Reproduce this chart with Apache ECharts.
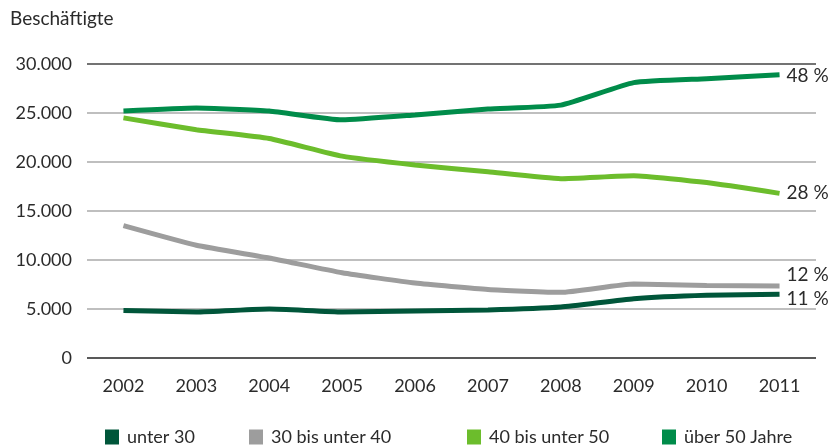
<!DOCTYPE html>
<html>
<head>
<meta charset="utf-8">
<script src="https://cdn.jsdelivr.net/npm/echarts@6/dist/echarts.min.js"></script>
<style>
  html, body { margin: 0; padding: 0; background: #fff; }
  #chart { width: 831px; height: 445px; }
</style>
</head>
<body>
<div id="chart"></div>
<script>
// Beschäftigte nach Altersgruppen, 2002–2011
const years = ['2002', '2003', '2004', '2005', '2006', '2007', '2008', '2009', '2010', '2011'];
const unter30 = [4850, 4700, 5000, 4700, 4800, 4900, 5200, 6050, 6400, 6500];
const von30bis40 = [13500, 11500, 10200, 8700, 7650, 7000, 6700, 7550, 7400, 7350];
const von40bis50 = [24500, 23300, 22400, 20600, 19700, 19000, 18300, 18600, 17900, 16800];
const ueber50 = [25200, 25500, 25200, 24300, 24800, 25400, 25800, 28100, 28500, 28900];
const seriesNames = ['unter 30', '30 bis unter 40', '40 bis unter 50', 'über 50 Jahre'];
const shares2011 = ['11 %', '12 %', '28 %', '48 %'];
const yTicks = [0, 5000, 10000, 15000, 20000, 25000, 30000];

const colors = ['#00563a', '#9d9d9d', '#6cbd2c', '#008c4a'];
const font = 'Lato, "Open Sans", sans-serif';
const textColor = '#2b2b2b';

const chart = echarts.init(document.getElementById('chart'));

const seriesData = [unter30, von30bis40, von40bis50, ueber50];
const labelOffsets = [[0, 5], [0, -11], [0, 0], [0, 1]];

const series = seriesData.map((d, i) => ({
  name: seriesNames[i],
  type: 'line',
  data: d,
  smooth: 0.15,
  symbol: 'none',
  z: 2 + i,
  lineStyle: { width: 5, color: colors[i] },
  itemStyle: { color: colors[i] },
  endLabel: {
    show: true,
    formatter: () => shares2011[i],
    color: textColor,
    fontFamily: font,
    fontSize: 19,
    distance: 7,
    offset: labelOffsets[i]
  }
}));

// one legend block per series so each entry keeps its own position
const legendLeft = [100, 244, 462, 657];
const legends = seriesNames.map((n, i) => ({
  data: [n],
  left: legendLeft[i],
  top: 423,
  icon: 'rect',
  itemWidth: 14,
  itemHeight: 15,
  itemGap: 0,
  textStyle: { color: textColor, fontFamily: font, fontSize: 18, padding: [0, 0, 0, 3] },
  selectedMode: false
}));

chart.setOption({
  animation: false,
  color: colors,
  title: {
    text: 'Beschäftigte',
    left: 5,
    top: 4,
    textStyle: { color: textColor, fontFamily: font, fontSize: 19, fontWeight: 'normal' }
  },
  legend: legends,
  grid: { left: 87, right: 15, top: 64, bottom: 87, containLabel: false },
  xAxis: {
    type: 'category',
    data: years,
    boundaryGap: true,
    axisLine: { show: false },
    axisTick: { show: false },
    axisLabel: { color: textColor, fontFamily: font, fontSize: 18, margin: 19 }
  },
  yAxis: {
    type: 'value',
    min: yTicks[0],
    max: yTicks[yTicks.length - 1],
    interval: 5000,
    axisLine: { show: false },
    axisTick: { show: false },
    axisLabel: {
      color: textColor,
      fontFamily: font,
      fontSize: 18,
      margin: 15,
      formatter: v => v === 0 ? '0' : v.toLocaleString('de-DE')
    },
    splitLine: {
      lineStyle: {
        width: 1.5,
        color: ['#222', '#aaaaaa', '#aaaaaa', '#aaaaaa', '#aaaaaa', '#aaaaaa', '#444']
      }
    }
  },
  series: series
});
</script>
</body>
</html>
